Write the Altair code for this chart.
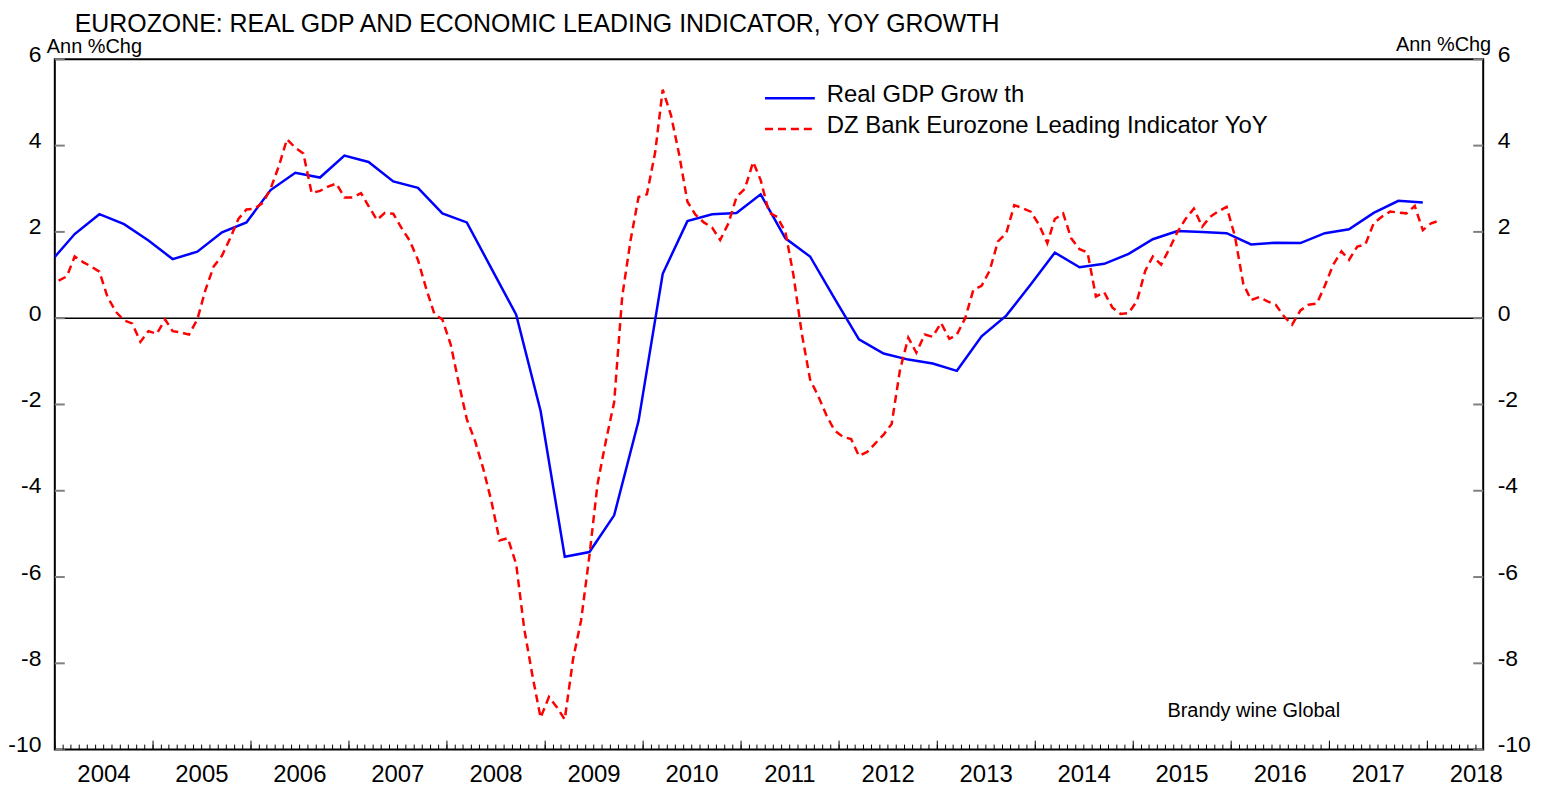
import altair as alt
import pandas as pd

# ---------------- text ----------------
TITLE = "EUROZONE: REAL GDP AND ECONOMIC LEADING INDICATOR, YOY GROWTH"
AXIS_UNIT = "Ann %Chg"
SERIES = ["Real GDP Grow th", "DZ Bank Eurozone Leading Indicator YoY"]
SOURCE = "Brandy wine Global"

# ---------------- data ----------------
# Real GDP growth, quarterly (dated mid last month of quarter), from 2003Q4
gdp_start = "2003-12-15"
gdp_values = [1.30,
              1.95, 2.41, 2.18, 1.80,     # 2004
              1.37, 1.54, 1.99, 2.22,     # 2005
              2.97, 3.37, 3.26, 3.77,     # 2006
              3.62, 3.17, 3.02, 2.43,     # 2007
              2.22, 1.15, 0.08, -2.15,    # 2008
              -5.53, -5.42, -4.57, -2.38, # 2009
              1.03, 2.25, 2.41, 2.44,     # 2010
              2.87, 1.85, 1.43, 0.46,     # 2011
              -0.49, -0.82, -0.96, -1.05, # 2012
              -1.22, -0.42, 0.06, 0.78,   # 2013
              1.52, 1.18, 1.26, 1.49,     # 2014
              1.83, 2.02, 2.00, 1.97,     # 2015
              1.71, 1.75, 1.74, 1.97,     # 2016
              2.06, 2.44, 2.72, 2.68]     # 2017

# DZ Bank leading indicator YoY, monthly from Jan 2004
lead_start = "2004-01-15"
lead_2004 = [0.87, 0.97, 1.43, 1.30, 1.20, 1.08, 0.50, 0.15, -0.05, -0.12, -0.55, -0.30]
lead_2005 = [-0.36, -0.03, -0.30, -0.33, -0.38, -0.03, 0.65, 1.20, 1.45, 1.85, 2.30, 2.52]
lead_2006 = [2.54, 2.68, 3.00, 3.53, 4.15, 3.95, 3.82, 2.90, 2.95, 3.05, 3.12, 2.80]
lead_2007 = [2.80, 2.90, 2.60, 2.28, 2.44, 2.42, 2.10, 1.80, 1.35, 0.70, 0.10, -0.03]
lead_2008 = [-0.61, -1.53, -2.34, -2.85, -3.48, -4.25, -5.15, -5.10, -5.70, -7.20, -8.30, -9.26]
lead_2009 = [-8.78, -9.03, -9.30, -7.90, -7.00, -5.50, -3.85, -2.85, -1.95, 0.50, 1.80, 2.81]
lead_2010 = [2.87, 3.85, 5.30, 4.70, 3.80, 2.70, 2.40, 2.22, 2.10, 1.81, 2.20, 2.81]
lead_2011 = [3.00, 3.62, 3.20, 2.45, 2.35, 2.00, 1.00, -0.35, -1.42, -1.80, -2.25, -2.60]
lead_2012 = [-2.75, -2.80, -3.19, -3.10, -2.90, -2.70, -2.45, -1.20, -0.45, -0.80, -0.38, -0.43]
lead_2013 = [-0.11, -0.48, -0.38, 0.00, 0.65, 0.75, 1.10, 1.78, 1.97, 2.62, 2.55, 2.47]
lead_2014 = [2.17, 1.74, 2.30, 2.43, 1.85, 1.60, 1.52, 0.50, 0.60, 0.25, 0.10, 0.12]
lead_2015 = [0.40, 1.10, 1.43, 1.24, 1.60, 2.00, 2.30, 2.54, 2.12, 2.35, 2.48, 2.58]
lead_2016 = [1.90, 0.80, 0.42, 0.49, 0.39, 0.31, 0.05, -0.15, 0.18, 0.31, 0.34, 0.75]
lead_2017 = [1.24, 1.55, 1.35, 1.66, 1.71, 2.20, 2.35, 2.47, 2.45, 2.43, 2.60, 2.04]
lead_2018 = [2.20, 2.26]

y_ticks = [-10, -8, -6, -4, -2, 0, 2, 4, 6]
zero_line = [0]
year_labels = list(range(2004, 2019))

lead_values = (lead_2004 + lead_2005 + lead_2006 + lead_2007 + lead_2008 + lead_2009 +
               lead_2010 + lead_2011 + lead_2012 + lead_2013 + lead_2014 + lead_2015 +
               lead_2016 + lead_2017 + lead_2018)

gdp_dates = [d.strftime("%Y-%m-%d") for d in
             pd.date_range(gdp_start[:8] + "01", periods=len(gdp_values), freq="3MS")
             + pd.Timedelta(days=14)]
lead_dates = [d.strftime("%Y-%m-%d") for d in
              pd.date_range(lead_start[:8] + "01", periods=len(lead_values), freq="MS")
              + pd.Timedelta(days=14)]

gdp_df = pd.DataFrame({"date": gdp_dates, "value": gdp_values})
lead_df = pd.DataFrame({"date": lead_dates, "value": lead_values})
month_df = pd.DataFrame({"date": [d.strftime("%Y-%m-%d") for d in
                                  pd.date_range("2004-01-01", "2018-07-01", freq="MS")]})
year_df = pd.DataFrame({"date": [f"{y}-01-01" for y in year_labels]})
year_label_df = pd.DataFrame({"date": [f"{y}-07-02" for y in year_labels],
                              "label": [str(y) for y in year_labels]})
ytick_df = pd.DataFrame({"v": y_ticks})
zero_df = pd.DataFrame({"v": zero_line})

# ---------------- layout ----------------
W, H = 1434, 693
FONT = "Liberation Sans"

xscale = alt.Scale(type="utc", domain=[alt.DateTime(year=2004, month=1, date=1, utc=True),
                                        alt.DateTime(year=2018, month=7, date=28, utc=True)])
yscale = alt.Scale(domain=[-10, 6], nice=False, zero=False)


def y_axis(orient):
    return alt.Axis(values=y_ticks, orient=orient, title=None, domain=False, ticks=False,
                    grid=False, labelFont=FONT, labelFontSize=23, labelColor="black",
                    labelPadding=14, labelOffset=-5, labelExpr="'' + datum.value",
                    labelFlush=False, labelOverlap=False)


zero = alt.Chart(zero_df).mark_rule(color="black", strokeWidth=1.5).encode(
    y=alt.Y("v:Q", scale=yscale, axis=None))

ytick_left = alt.Chart(ytick_df).mark_rule(color="#808080", strokeWidth=2).encode(
    y=alt.Y("v:Q", scale=yscale, axis=None), x=alt.value(0), x2=alt.value(10))
ytick_right = alt.Chart(ytick_df).mark_rule(color="#808080", strokeWidth=2).encode(
    y=alt.Y("v:Q", scale=yscale, axis=None), x=alt.value(W - 10), x2=alt.value(W))

minor_ticks = alt.Chart(month_df).mark_rule(color="black", strokeWidth=1).encode(
    x=alt.X("date:T", scale=xscale, axis=None), y=alt.value(H - 5), y2=alt.value(H))
major_ticks = alt.Chart(year_df).mark_rule(color="black", strokeWidth=1).encode(
    x=alt.X("date:T", scale=xscale, axis=None), y=alt.value(H - 9), y2=alt.value(H))
year_text = alt.Chart(year_label_df).mark_text(
    font=FONT, fontSize=24, color="black", align="center", baseline="middle").encode(
    x=alt.X("date:T", scale=xscale, axis=None), y=alt.value(H + 26), text="label:N")

gdp_line = alt.Chart(gdp_df).mark_line(color="#0000FF", strokeWidth=2.5, clip=True).encode(
    x=alt.X("date:T", scale=xscale, axis=None),
    y=alt.Y("value:Q", scale=yscale, axis=y_axis("left")))

lead_line = alt.Chart(lead_df).mark_line(color="#FF0000", strokeWidth=2.5,
                                         strokeDash=[8, 5], clip=True).encode(
    x=alt.X("date:T", scale=xscale, axis=None),
    y=alt.Y("value:Q", scale=yscale, axis=y_axis("right")))


def text_layer(txt, x, y, size, align="left", baseline="middle"):
    return alt.Chart(pd.DataFrame({"t": [txt]})).mark_text(
        font=FONT, fontSize=size, color="black", align=align, baseline=baseline).encode(
        text="t:N", x=alt.value(x), y=alt.value(y))


title = text_layer(TITLE, 20, -27, 25, baseline="alphabetic")
unit_left = text_layer(AXIS_UNIT, -8, -12, 20)
unit_right = text_layer(AXIS_UNIT, W + 8, -14, 20, align="right")
source = text_layer(SOURCE, 1117, 654, 20)

leg1_line = alt.Chart(pd.DataFrame({"s": [SERIES[0]]})).mark_rule(
    color="#0000FF", strokeWidth=2.5).encode(x=alt.value(713), x2=alt.value(763), y=alt.value(39))
leg2_line = alt.Chart(pd.DataFrame({"s": [SERIES[1]]})).mark_rule(
    color="#FF0000", strokeWidth=2.5, strokeDash=[8, 5]).encode(
    x=alt.value(713), x2=alt.value(763), y=alt.value(70))
leg1_text = text_layer(SERIES[0], 775, 36, 24)
leg2_text = text_layer(SERIES[1], 775, 66.5, 24)

chart = alt.layer(
    zero, ytick_left, ytick_right, minor_ticks, major_ticks, year_text,
    gdp_line, lead_line,
    title, unit_left, unit_right, source,
    leg1_line, leg2_line, leg1_text, leg2_text,
).resolve_scale(y="independent").resolve_axis(y="independent").properties(
    width=W, height=H,
    autosize=alt.AutoSizeParams(type="none"),
    padding={"left": 47, "top": 50, "right": 50, "bottom": 35},
    background="white",
).configure_view(stroke="black", strokeWidth=2)

chart.save("out.html", embed_options={"renderer": "svg", "actions": False})
